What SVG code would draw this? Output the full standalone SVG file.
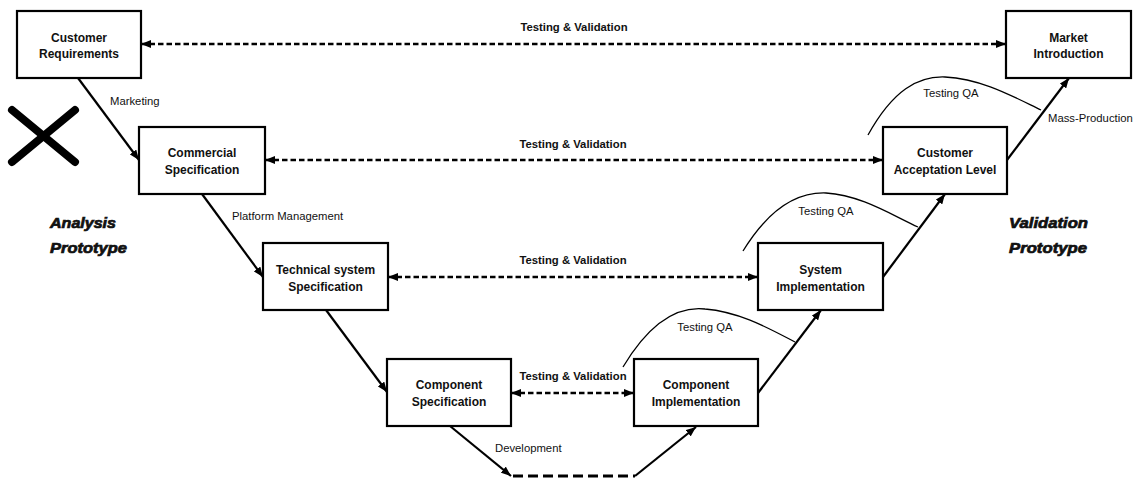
<svg xmlns="http://www.w3.org/2000/svg" width="1136" height="481" viewBox="0 0 1136 481">
  <defs>
    <marker id="head" markerUnits="userSpaceOnUse" markerWidth="10" markerHeight="8" refX="10" refY="4" orient="auto-start-reverse">
      <path d="M0,0 L10,4 L0,8 z" fill="#000"/>
    </marker>
    <style>
      .box { fill: #fff; stroke: #000; stroke-width: 2.2; }
      .lbl { font-family: "Liberation Sans", Arial, sans-serif; font-size: 12px; font-weight: bold; text-anchor: middle; fill: #111; }
      .tv { font-family: "Liberation Sans", Arial, sans-serif; font-size: 11.3px; font-weight: bold; text-anchor: middle; fill: #111; }
      .note { font-family: "Liberation Sans", Arial, sans-serif; font-size: 11.3px; fill: #111; }
      .proto { font-family: "Liberation Sans", Arial, sans-serif; font-size: 14.5px; font-weight: bold; font-style: italic; fill: #111; stroke: #111; stroke-width: 0.7; }
      .flow { fill: none; stroke: #000; stroke-width: 2.2; }
      .tvline { fill: none; stroke: #000; stroke-width: 2.4; stroke-dasharray: 5.5 3; }
      .dev { fill: none; stroke: #000; stroke-width: 3; stroke-dasharray: 10 5; }
      .qa { fill: none; stroke: #000; stroke-width: 1.3; }
    </style>
  </defs>
  <rect width="1136" height="481" fill="#fff"/>

  <!-- connectors -->
  <g id="connectors">
    <!-- left branch (specification) -->
    <line class="flow" x1="78" y1="78" x2="139" y2="160" marker-end="url(#head)"/>
    <line class="flow" x1="202" y1="194" x2="263" y2="277" marker-end="url(#head)"/>
    <line class="flow" x1="326" y1="310" x2="387" y2="392" marker-end="url(#head)"/>
    <line class="flow" x1="450" y1="426" x2="511" y2="476" marker-end="url(#head)"/>
    <!-- development link -->
    <line class="dev" x1="513" y1="476" x2="635" y2="476"/>
    <!-- right branch (implementation) -->
    <line class="flow" x1="635" y1="476" x2="696" y2="427" marker-end="url(#head)"/>
    <line class="flow" x1="758" y1="393" x2="821" y2="310" marker-end="url(#head)"/>
    <line class="flow" x1="883" y1="277" x2="945" y2="194" marker-end="url(#head)"/>
    <line class="flow" x1="1007" y1="160" x2="1069" y2="78" marker-end="url(#head)"/>

    <!-- testing & validation links -->
    <line class="tvline" x1="141" y1="44" x2="1006" y2="44" marker-start="url(#head)" marker-end="url(#head)"/>
    <line class="tvline" x1="265" y1="160" x2="883" y2="160" marker-start="url(#head)" marker-end="url(#head)"/>
    <line class="tvline" x1="388" y1="277" x2="758" y2="277" marker-start="url(#head)" marker-end="url(#head)"/>
    <line class="tvline" x1="511" y1="393" x2="634" y2="393" marker-start="url(#head)" marker-end="url(#head)"/>

    <!-- testing QA arcs -->
    <path class="qa" d="M623,367 C650,322 678,306 705,309 C740,312 768,328 795,342"/>
    <path class="qa" d="M743,251 C770,207 798,192 826,193 C860,195 890,214 918,227"/>
    <path class="qa" d="M868,135 C893,90 918,76 945,77 C982,79 1012,96 1041,110"/>

    <!-- connector labels -->
    <text class="tv" x="574" y="31">Testing &amp; Validation</text>
    <text class="tv" x="573" y="148">Testing &amp; Validation</text>
    <text class="tv" x="573" y="264">Testing &amp; Validation</text>
    <text class="tv" x="573" y="380">Testing &amp; Validation</text>
    <text class="note" x="110" y="105">Marketing</text>
    <text class="note" x="232" y="220">Platform Management</text>
    <text class="note" x="495" y="452">Development</text>
    <text class="note" x="1048" y="122">Mass-Production</text>
    <text class="note" x="705" y="331" text-anchor="middle">Testing QA</text>
    <text class="note" x="826" y="215" text-anchor="middle">Testing QA</text>
    <text class="note" x="951" y="97" text-anchor="middle">Testing QA</text>
  </g>

  <!-- nodes -->
  <g id="customer-requirements">
    <rect class="box" x="17" y="11" width="124" height="67"/>
    <text class="lbl" x="79" y="41.5">Customer</text>
    <text class="lbl" x="79" y="57.5">Requirements</text>
  </g>
  <g id="commercial-specification">
    <rect class="box" x="139" y="127" width="126" height="67"/>
    <text class="lbl" x="202" y="157">Commercial</text>
    <text class="lbl" x="202" y="173.5">Specification</text>
  </g>
  <g id="technical-system-specification">
    <rect class="box" x="263" y="243" width="125" height="67"/>
    <text class="lbl" x="325.5" y="274">Technical system</text>
    <text class="lbl" x="325.5" y="291">Specification</text>
  </g>
  <g id="component-specification">
    <rect class="box" x="387" y="359" width="124" height="67"/>
    <text class="lbl" x="449" y="389">Component</text>
    <text class="lbl" x="449" y="406">Specification</text>
  </g>
  <g id="component-implementation">
    <rect class="box" x="634" y="359" width="124" height="67"/>
    <text class="lbl" x="696" y="389">Component</text>
    <text class="lbl" x="696" y="406">Implementation</text>
  </g>
  <g id="system-implementation">
    <rect class="box" x="758" y="243" width="125" height="67"/>
    <text class="lbl" x="820.5" y="274">System</text>
    <text class="lbl" x="820.5" y="291">Implementation</text>
  </g>
  <g id="customer-acceptation-level">
    <rect class="box" x="883" y="127" width="124" height="67"/>
    <text class="lbl" x="945" y="157">Customer</text>
    <text class="lbl" x="945" y="174">Acceptation Level</text>
  </g>
  <g id="market-introduction">
    <rect class="box" x="1006" y="11" width="125" height="67"/>
    <text class="lbl" x="1068.5" y="41.5">Market</text>
    <text class="lbl" x="1068.5" y="57.5">Introduction</text>
  </g>

  <!-- cross mark -->
  <g id="cross" stroke="#000" stroke-width="8" stroke-linecap="round">
    <line x1="12" y1="110" x2="75" y2="162"/>
    <line x1="75" y1="110" x2="12" y2="162"/>
  </g>

  <!-- side captions -->
  <g id="analysis-prototype">
    <text class="proto" x="50" y="228" textLength="66" lengthAdjust="spacingAndGlyphs">Analysis</text>
    <text class="proto" x="50" y="252.5" textLength="77" lengthAdjust="spacingAndGlyphs">Prototype</text>
  </g>
  <g id="validation-prototype">
    <text class="proto" x="1009" y="228" textLength="79" lengthAdjust="spacingAndGlyphs">Validation</text>
    <text class="proto" x="1009" y="252.5" textLength="78" lengthAdjust="spacingAndGlyphs">Prototype</text>
  </g>
</svg>
